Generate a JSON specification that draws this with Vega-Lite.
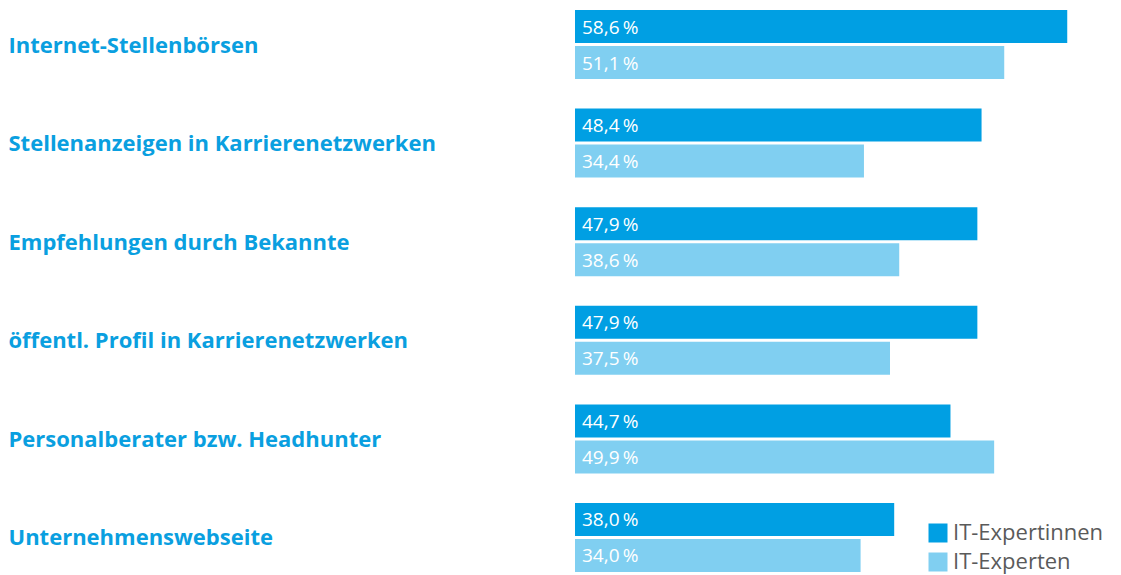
{
  "$schema": "https://vega.github.io/schema/vega-lite/v6.json",
  "autosize": "none",
  "width": 546,
  "height": 562,
  "padding": {"left": 575, "top": 10, "right": 0, "bottom": 3},
  "background": "white",
  "data": {"values": [
    {"cat": "Internet-Stellenbörsen", "group": "IT-Expertinnen", "value": 58.6},
    {"cat": "Internet-Stellenbörsen", "group": "IT-Experten", "value": 51.1},
    {"cat": "Stellenanzeigen in Karrierenetzwerken", "group": "IT-Expertinnen", "value": 48.4},
    {"cat": "Stellenanzeigen in Karrierenetzwerken", "group": "IT-Experten", "value": 34.4},
    {"cat": "Empfehlungen durch Bekannte", "group": "IT-Expertinnen", "value": 47.9},
    {"cat": "Empfehlungen durch Bekannte", "group": "IT-Experten", "value": 38.6},
    {"cat": "öffentl. Profil in Karrierenetzwerken", "group": "IT-Expertinnen", "value": 47.9},
    {"cat": "öffentl. Profil in Karrierenetzwerken", "group": "IT-Experten", "value": 37.5},
    {"cat": "Personalberater bzw. Headhunter", "group": "IT-Expertinnen", "value": 44.7},
    {"cat": "Personalberater bzw. Headhunter", "group": "IT-Experten", "value": 49.9},
    {"cat": "Unternehmenswebseite", "group": "IT-Expertinnen", "value": 38.0},
    {"cat": "Unternehmenswebseite", "group": "IT-Experten", "value": 34.0}
  ]},
  "transform": [
    {"calculate": "replace(format(datum.value, '.1f'), '.', ',') + '\u2009%'", "as": "label"}
  ],
  "encoding": {
    "y": {
      "field": "cat", "type": "nominal", "sort": null,
      "scale": {"paddingInner": 0.3, "paddingOuter": 0},
      "axis": {
        "title": null, "domain": false, "ticks": false,
        "labelAlign": "left", "labelPadding": 567, "labelLimit": 600, "labelOffset": 1,
        "labelFont": "Open Sans", "labelFontSize": 22, "labelFontWeight": "bold",
        "labelColor": "#0A9FE0"
      }
    },
    "yOffset": {
      "field": "group", "type": "nominal",
      "sort": ["IT-Expertinnen", "IT-Experten"],
      "scale": {"paddingInner": 0.0833, "paddingOuter": 0}
    }
  },
  "layer": [
    {
      "mark": {"type": "bar"},
      "encoding": {
        "x": {"field": "value", "type": "quantitative", "scale": {"domain": [0, 65], "nice": false}, "axis": null},
        "color": {
          "field": "group", "type": "nominal",
          "sort": ["IT-Expertinnen", "IT-Experten"],
          "scale": {"domain": ["IT-Expertinnen", "IT-Experten"], "range": ["#009FE3", "#80CFF1"]},
          "legend": {
            "title": null, "orient": "none", "legendX": 352, "legendY": 512,
            "symbolType": "square", "symbolSize": 361, "symbolStrokeWidth": 0,
            "labelFont": "Open Sans", "labelFontSize": 22, "labelColor": "#5A5A5A",
            "rowPadding": 7, "labelOffset": 4
          }
        }
      }
    },
    {
      "mark": {"type": "text", "align": "left", "baseline": "middle", "dx": 7, "dy": 1, "color": "white", "font": "Open Sans", "fontSize": 19},
      "encoding": {
        "x": {"datum": 0, "type": "quantitative"},
        "text": {"field": "label"}
      }
    }
  ],
  "config": {"view": {"stroke": null}}
}
